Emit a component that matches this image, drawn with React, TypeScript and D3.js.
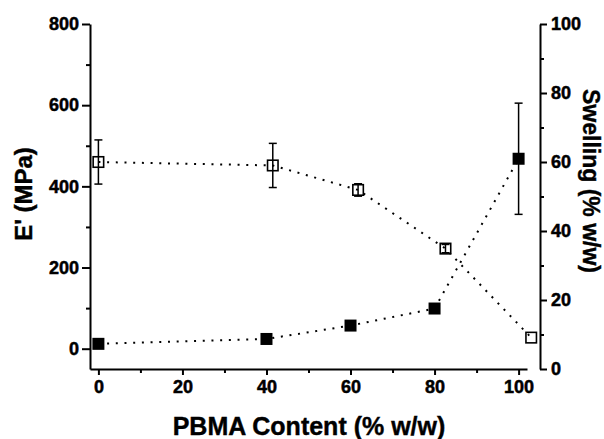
import React, { useRef, useEffect } from 'react';
import * as d3 from 'd3';

// E' (closed squares, left axis)
const modulusX = [0, 40, 60, 80, 100];
const modulusY = [12, 24, 57, 99, 468];
const modulusErr = [0, 0, 0, 0, 137];

// Swelling (open squares, right axis)
const swellX = [0, 41.5, 61.8, 82.6, 103];
const swellY = [60, 59, 51.9, 34.9, 9.1];
const swellErr = [6.4, 6.4, 1.8, 1.2, 0];

const xTicks = [0, 20, 40, 60, 80, 100];
const xMinor = [10, 30, 50, 70, 90];
const leftTicks = [0, 200, 400, 600, 800];
const leftMinor = [100, 300, 500, 700];
const rightTicks = [0, 20, 40, 60, 80, 100];
const rightMinor = [10, 30, 50, 70, 90];

function App() {
  const svgRef = useRef<SVGSVGElement>(null);

  useEffect(() => {
    const width = 604;
    const height = 439;
    const font = "'Liberation Sans', Arial, Helvetica, sans-serif";

    const x = d3.scaleLinear().domain([-2, 102]).range([90, 527]);
    const yL = d3.scaleLinear().domain([-50, 800]).range([369, 24]);
    const yR = d3.scaleLinear().domain([0, 100]).range([369, 24]);

    const svg = d3.select(svgRef.current);
    svg.selectAll("*").remove();
    svg.attr("width", width).attr("height", height).attr("viewBox", [0, 0, width, height].join(" "));

    const styleAxis = (g: any) => {
      g.selectAll("path, line").attr("stroke", "#000").attr("stroke-width", 2);
      g.selectAll("text")
        .style("font-family", font)
        .style("font-size", "18px")
        .style("font-weight", "bold")
        .attr("fill", "#000")
        .attr("stroke", "#000")
        .attr("stroke-width", 0.5);
    };

    // bottom axis
    svg.append("g")
      .attr("transform", "translate(0,369)")
      .call(d3.axisBottom(x).tickValues(xTicks).tickSize(6).tickSizeOuter(0).tickPadding(5))
      .call(styleAxis);
    svg.append("g")
      .attr("transform", "translate(0,369)")
      .call(d3.axisBottom(x).tickValues(xMinor).tickSize(4).tickFormat(() => ""))
      .call((g: any) => { styleAxis(g); g.select(".domain").remove(); });

    // left axis
    svg.append("g")
      .attr("transform", "translate(90,0)")
      .call(d3.axisLeft(yL).tickValues(leftTicks).tickSize(8).tickSizeOuter(0).tickPadding(3))
      .call(styleAxis);
    svg.append("g")
      .attr("transform", "translate(90,0)")
      .call(d3.axisLeft(yL).tickValues(leftMinor).tickSize(4).tickFormat(() => ""))
      .call((g: any) => { styleAxis(g); g.select(".domain").remove(); });

    // right axis
    svg.append("g")
      .attr("transform", "translate(540,0)")
      .call(d3.axisRight(yR).tickValues(rightTicks).tickSize(7).tickSizeOuter(0).tickPadding(4))
      .call(styleAxis);
    svg.append("g")
      .attr("transform", "translate(540,0)")
      .call(d3.axisRight(yR).tickValues(rightMinor).tickSize(4).tickFormat(() => ""))
      .call((g: any) => { styleAxis(g); g.select(".domain").remove(); });

    // axis titles
    const title = (sel: any, size: number) =>
      sel.attr("text-anchor", "middle")
        .attr("font-family", font).attr("font-weight", "bold").attr("font-size", size)
        .attr("stroke", "#000").attr("stroke-width", 0.4);
    svg.append("text")
      .attr("x", 309).attr("y", 435)
      .call(title, 25)
      .text("PBMA Content (% w/w)");
    svg.append("text")
      .attr("transform", "translate(32,194) rotate(-90)")
      .call(title, 24)
      .text("E' (MPa)");
    svg.append("text")
      .attr("transform", "translate(583,181) rotate(90)")
      .call(title, 23)
      .text("Swelling (% w/w)");

    const modulus = modulusX.map((d, i) => ({ x: d, y: modulusY[i], e: modulusErr[i] }));
    const swell = swellX.map((d, i) => ({ x: d, y: swellY[i], e: swellErr[i] }));

    const lineL = d3.line<any>().x(d => x(d.x)).y(d => yL(d.y));
    const lineR = d3.line<any>().x(d => x(d.x)).y(d => yR(d.y));

    // dotted connecting lines
    svg.append("path").datum(modulus)
      .attr("d", lineL).attr("fill", "none").attr("stroke", "#000")
      .attr("stroke-width", 2).attr("stroke-dasharray", "2,6.7");
    svg.append("path").datum(swell)
      .attr("d", lineR).attr("fill", "none").attr("stroke", "#000")
      .attr("stroke-width", 2).attr("stroke-dasharray", "2,6.7");

    // error bars
    const drawErr = (data: any[], y: any) => {
      const g = svg.append("g").attr("stroke", "#000").attr("stroke-width", 1.5);
      data.filter(d => d.e > 0).forEach(d => {
        const cx = x(d.x);
        g.append("line").attr("x1", cx).attr("x2", cx).attr("y1", y(d.y - d.e)).attr("y2", y(d.y + d.e));
        g.append("line").attr("x1", cx - 4).attr("x2", cx + 4).attr("y1", y(d.y + d.e)).attr("y2", y(d.y + d.e));
        g.append("line").attr("x1", cx - 4).attr("x2", cx + 4).attr("y1", y(d.y - d.e)).attr("y2", y(d.y - d.e));
      });
    };
    drawErr(modulus, yL);
    drawErr(swell, yR);

    // markers
    const s = 12;
    svg.append("g").selectAll("rect").data(modulus).join("rect")
      .attr("x", d => x(d.x) - s / 2).attr("y", d => yL(d.y) - s / 2)
      .attr("width", s).attr("height", s).attr("fill", "#000");
    const so = 10.5;
    svg.append("g").selectAll("rect").data(swell).join("rect")
      .attr("x", d => x(d.x) - so / 2).attr("y", d => yR(d.y) - so / 2)
      .attr("width", so).attr("height", so)
      .attr("fill", "none").attr("stroke", "#000").attr("stroke-width", 1.6);
  }, []);

  return (
    <div style={{ position: 'absolute', left: 0, top: 0, background: '#fff' }}>
      <svg ref={svgRef} style={{ display: 'block' }}></svg>
    </div>
  );
}

export default App;
